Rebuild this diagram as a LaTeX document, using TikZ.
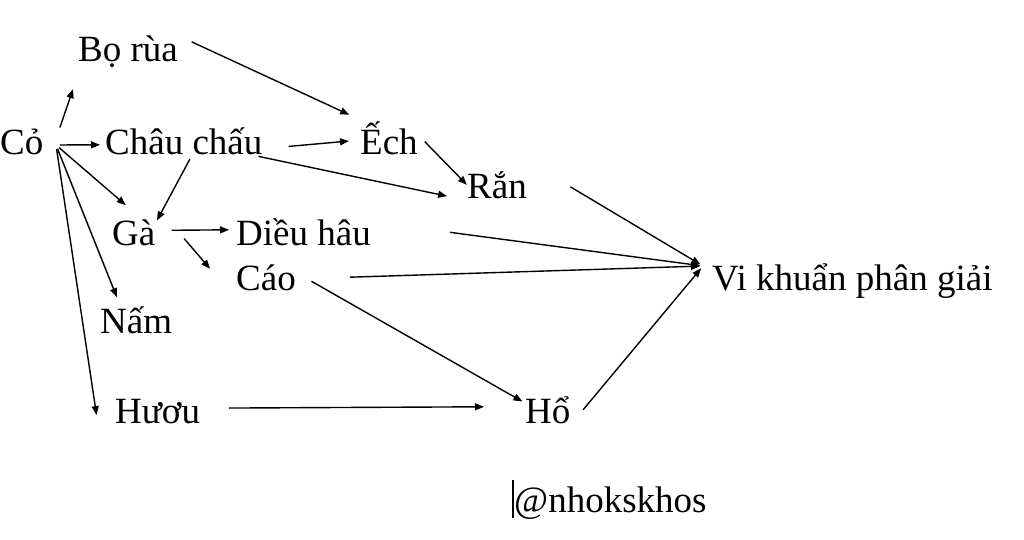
\documentclass[tikz,border=0pt]{standalone}
\usepackage{fontspec}
\setmainfont{Liberation Serif}
\usetikzlibrary{arrows.meta}
\begin{document}
\begin{tikzpicture}[x=1pt,y=-1pt,
  lbl/.style={anchor=base west,inner sep=0pt,font=\fontsize{37}{40}\selectfont},
  arr/.style={-{Triangle[length=9pt,width=7pt]},line width=1.4pt,shorten <=4pt,shorten >=3pt}]
\useasboundingbox (0,0) rectangle (1024,540);
\node[lbl] (bo) at (78,62) {Bọ rùa};
\node[lbl] (co) at (0,155) {Cỏ};
\node[lbl] (cc) at (105,155) {Châu chấu};
\node[lbl] (ech) at (360,155) {Ếch};
\node[lbl] (ran) at (467,198) {Rắn};
\node[lbl] (ga) at (112,245) {Gà};
\node[lbl] (dh) at (236,245) {Diều hâu};
\node[lbl] (cao) at (236,290) {Cáo};
\node[lbl] (nam) at (100,333) {Nấm};
\node[lbl] (huou) at (115,423) {Hươu};
\node[lbl] (ho) at (525,423) {Hổ};
\node[lbl] (vk) at (712,290) {Vi khuẩn phân giải};
\node[lbl] (tag) at (512,512) {\rule[-6pt]{2pt}{38pt}@nhokskhos};
\coordinate (cs) at (56,145);
\coordinate (vkin) at (703,266);
\draw[arr] ([shift={(15,2)}]co.north east) -- ([shift={(-4,18)}]bo.south west);
\draw[arr] (cs) -- ([shift={(-2,3)}]cc.west);
\draw[arr] (cs) -- ([shift={(16,-12)}]ga.north west);
\draw[arr] (cs) -- ([shift={(18,-6)}]nam.north west);
\draw[arr] (cs) -- ([shift={(-18,7)}]huou.west);
\draw[arr] ([shift={(10,-12)}]bo.east) -- ([shift={(-8,-6)}]ech.north west);
\draw[arr] ([shift={(22,5)}]cc.east) -- ([shift={(-8,2)}]ech.west);
\draw[arr] ([shift={(-8,0)}]cc.south east) -- ([shift={(-17,12)}]ran.west);
\draw[arr] ([shift={(8,0)}]cc.south) -- ([shift={(0,4)}]ga.north east);
\draw[arr] ([shift={(4,0)}]ech.east) -- ([shift={(2,16)}]ran.north west);
\draw[arr] ([shift={(12,-2)}]ga.east) -- ([shift={(-4,-2)}]dh.west);
\draw[arr] ([shift={(26,-10)}]ga.south east) -- ([shift={(-24,7)}]cao.north west);
\draw[arr] ([shift={(40,0)}]ran.east) -- (vkin);
\draw[arr] ([shift={(75,0)}]dh.east) -- (vkin);
\draw[arr] ([shift={(50,0)}]cao.east) -- (vkin);
\draw[arr] ([shift={(12,2)}]cao.east) -- ([shift={(0,7)}]ho.north west);
\draw[arr] ([shift={(25,-3)}]huou.east) -- ([shift={(-38,-3)}]ho.west);
\draw[arr] ([shift={(10,3)}]ho.east) -- (vkin);
\end{tikzpicture}
\end{document}
